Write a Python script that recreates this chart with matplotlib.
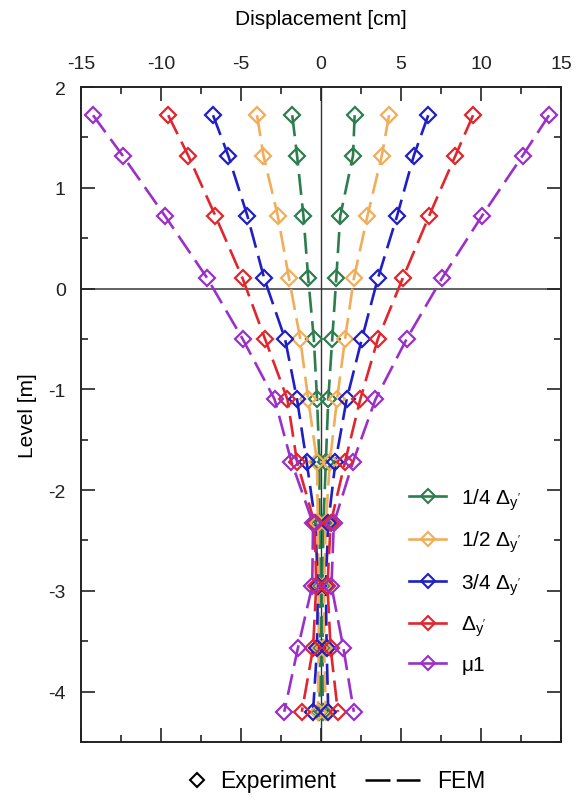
import numpy as np
import matplotlib
matplotlib.use("Agg")
import matplotlib.pyplot as plt
from matplotlib.lines import Line2D
from matplotlib.ticker import MultipleLocator

plt.rcParams['font.family'] = ['Liberation Sans', 'DejaVu Sans']
plt.rcParams['mathtext.fontset'] = 'custom'
plt.rcParams['mathtext.rm'] = 'Liberation Sans'
plt.rcParams['mathtext.it'] = 'Liberation Sans:italic'
plt.rcParams['mathtext.default'] = 'regular'
plt.rcParams['axes.unicode_minus'] = False

# measurement levels [m]
levels = [1.72, 1.32, 0.72, 0.10, -0.50, -1.10, -1.72, -2.33, -2.95, -3.57, -4.20]

# displacement envelopes [cm], positive and negative loading direction
q1_pos = [2.1, 2.0, 1.2, 0.95, 0.7, 0.45, 0.3, 0.15, 0.1, 0.1, 0.1]
q1_neg = [-1.8, -1.5, -1.1, -0.8, -0.45, -0.25, -0.1, -0.1, -0.05, -0.05, -0.1]
q2_pos = [4.25, 3.8, 2.9, 2.05, 1.5, 1.0, 0.55, 0.3, 0.2, 0.2, 0.3]
q2_neg = [-4.0, -3.6, -2.7, -2.0, -1.3, -0.8, -0.25, -0.2, -0.15, -0.15, -0.2]
q3_pos = [6.7, 5.8, 4.75, 3.55, 2.55, 1.6, 0.9, 0.45, 0.3, 0.35, 0.45]
q3_neg = [-6.75, -5.8, -4.6, -3.55, -2.25, -1.5, -0.9, -0.35, -0.2, -0.25, -0.5]
dy_pos = [9.5, 8.4, 6.75, 5.1, 3.55, 2.45, 1.5, 0.6, 0.4, 0.6, 1.05]
dy_neg = [-9.55, -8.3, -6.6, -4.9, -3.5, -2.1, -1.5, -0.4, -0.3, -0.5, -1.2]
mu_pos = [14.25, 12.6, 10.05, 7.55, 5.35, 3.4, 2.0, 0.8, 0.65, 1.4, 2.05]
mu_neg = [-14.25, -12.4, -9.75, -7.1, -4.9, -2.9, -1.85, -0.5, -0.55, -1.45, -2.3]

labels = ["1/4 Δ$_{y'}$", "1/2 Δ$_{y'}$", "3/4 Δ$_{y'}$", "Δ$_{y'}$", "μ1"]
colors = ['#2e7d4f', '#f0ad5a', '#1f1fc4', '#e0262e', '#9b30c8']
series = [(q1_pos, q1_neg), (q2_pos, q2_neg), (q3_pos, q3_neg),
          (dy_pos, dy_neg), (mu_pos, mu_neg)]

fig = plt.figure(figsize=(5.77, 8.03), dpi=100)
ax = fig.add_axes([0.1404, 0.0747, 0.832, 0.8157])

ax.axhline(0, color='#555555', lw=1.3, zorder=1)
ax.axvline(0, color='#333333', lw=1.0, zorder=1)

dash = (0, (8, 3.2))
for (pos, neg), c, lab in zip(series, colors, labels):
    for side in (pos, neg):
        # FEM
        ax.plot(side, levels, color=c, lw=1.9, ls=dash, zorder=2)
        # experiment
        ax.plot(side, levels, ls='none', marker='D', ms=8, mfc='none',
                mec=c, mew=1.6, zorder=3)

handles = [Line2D([], [], color=c, lw=1.9, marker='D', ms=7.5, mfc='none',
                  mec=c, mew=1.5) for c in colors]
ax.legend(handles, labels, loc='center left', bbox_to_anchor=(0.645, 0.247),
          frameon=False, fontsize=15, handlelength=1.75, handletextpad=0.75,
          labelspacing=0.82)

ax.set_xlim(-15, 15)
ax.set_ylim(-4.5, 2)
ax.xaxis.set_major_locator(MultipleLocator(5))
ax.xaxis.set_minor_locator(MultipleLocator(2.5))
ax.yaxis.set_major_locator(MultipleLocator(1))
ax.yaxis.set_minor_locator(MultipleLocator(0.5))
ax.xaxis.tick_top()
ax.xaxis.set_label_position('top')
ax.tick_params(which='both', direction='in', top=True, bottom=True,
               left=True, right=True, colors='#222222', labelsize=14)
ax.tick_params(which='major', length=10, width=1.2)
ax.tick_params(which='minor', length=5, width=1.2)
ax.tick_params(axis='x', pad=11)
ax.tick_params(axis='y', pad=11)
for s in ax.spines.values():
    s.set_linewidth(1.4)
    s.set_color('#222222')

ax.set_xlabel('Displacement [cm]', fontsize=15, labelpad=22)
ax.set_ylabel('Level [m]', fontsize=15, labelpad=8)

# method key below the plot
ky = 0.027
fig.add_artist(Line2D([0.3414], [ky], transform=fig.transFigure, ls='none',
                      marker='D', ms=7, mfc='none', mec='k', mew=1.5))
fig.text(0.381, ky, 'Experiment', fontsize=16.5, va='center', ha='left')
fig.add_artist(Line2D([0.6326, 0.7279], [ky, ky], transform=fig.transFigure,
                      color='k', lw=1.8, ls=(0, (10, 2.5))))
fig.text(0.757, ky, 'FEM', fontsize=16.5, va='center', ha='left')

fig.savefig('out.png', dpi=100)
